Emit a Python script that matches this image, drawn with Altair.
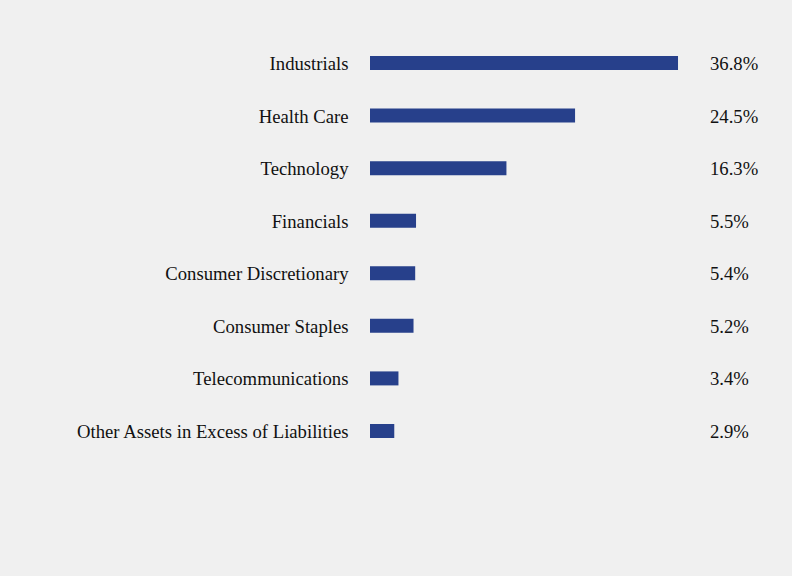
import altair as alt
import pandas as pd

sectors = ["Industrials", "Health Care", "Technology", "Financials",
           "Consumer Discretionary", "Consumer Staples", "Telecommunications",
           "Other Assets in Excess of Liabilities"]
values = [36.8, 24.5, 16.3, 5.5, 5.4, 5.2, 3.4, 2.9]

df = pd.DataFrame({"sector": sectors, "value": values})
df["label"] = [f"{v:.1f}%" for v in values]

n = len(sectors)
step = 52.57
pin = 1 - 14 / step
yscale = alt.Scale(domain=sectors, paddingInner=pin, paddingOuter=pin / 2)
FONT = "Liberation Serif"
FS = 18.7
W = 8.37 * 40
H = step * n
LEFT, TOP = 370, 36.7

base = alt.Chart(df)
bars = base.mark_bar(color="#27408b").encode(
    x=alt.X("value:Q", scale=alt.Scale(domain=[0, 40]), axis=None),
    y=alt.Y("sector:N", sort=sectors, scale=yscale,
            axis=alt.Axis(title=None, ticks=False, domain=False, labelPadding=22,
                          labelFont=FONT, labelFontSize=FS, labelColor="#111111",
                          labelLimit=400, labelOffset=1)),
)
texts = base.mark_text(align="left", baseline="middle", font=FONT, fontSize=FS,
                       color="#111111", clip=False, dy=1).encode(
    x=alt.value(340),
    y=alt.Y("sector:N", sort=sectors, scale=yscale),
    text="label:N",
)

chart = alt.layer(bars, texts).properties(
    width=W, height=H,
    padding={"left": LEFT, "top": TOP, "right": 792 - LEFT - W, "bottom": 576 - TOP - H},
    autosize=alt.AutoSizeParams(type="none"),
    background="#f0f0f0",
).configure_view(stroke=None)

chart.save("out.html", embed_options={"renderer": "svg", "actions": False})
